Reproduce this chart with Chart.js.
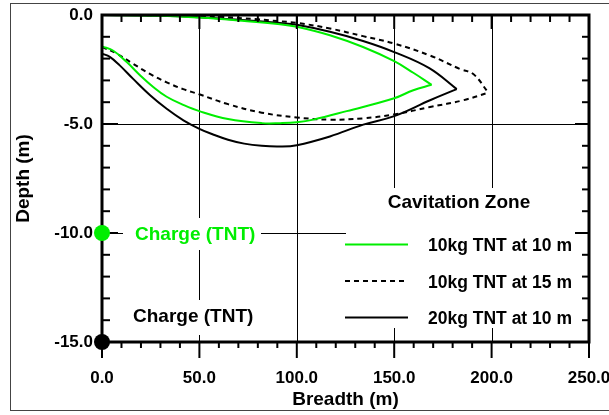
<!DOCTYPE html>
<html>
<head>
<meta charset="utf-8">
<script src="https://cdn.jsdelivr.net/npm/chart.js@4.4.1/dist/chart.umd.min.js"></script>
<style>
  body { margin: 0; background: #fff; }
</style>
</head>
<body>
<canvas id="depthChart" width="609" height="415"></canvas>
<script>
// cavitation zone outlines, [breadth (m), depth (m)]
// each zone = lower edge + upper edge, both running left to right into the tip
const lower10at10 = [[0, -1.44], [5.8, -1.64], [12.7, -2.16], [19.5, -2.76], [26.3, -3.3], [33.2, -3.75],
  [41.7, -4.12], [50.3, -4.42], [64.7, -4.77], [82, -4.96], [91.4, -4.96], [100, -4.92], [108.5, -4.8],
  [125.6, -4.41], [150, -3.82], [159.8, -3.45], [169.2, -3.2]];
const upper10at10 = [[0, 0], [30, -0.03], [50, -0.12], [70, -0.25], [91.4, -0.42], [100, -0.54], [117, -0.93],
  [134, -1.47], [150, -2.12], [159.8, -2.65], [169.2, -3.2]];

const lower10at15 = [[0, -1.46], [7.5, -1.77], [16, -2.24], [24.6, -2.7], [33.2, -3.09], [41.7, -3.4],
  [50.3, -3.65], [64.7, -4.09], [82, -4.48], [100, -4.7], [117, -4.8], [134, -4.74], [150, -4.56],
  [168.4, -4.22], [185.5, -3.91], [198.3, -3.56]];
const upper10at15 = [[0, 0], [40, -0.02], [60, -0.08], [80, -0.2], [91.4, -0.29], [100, -0.36], [117, -0.62],
  [134, -0.97], [150, -1.31], [168.4, -1.86], [183.8, -2.48], [190.6, -2.71], [198.3, -3.56]];

const lower20at10 = [[0, -1.77], [4, -1.92], [9.1, -2.31], [16, -2.93], [24.7, -3.68], [33.2, -4.3],
  [41.8, -4.83], [50, -5.22], [57, -5.48], [64.7, -5.72], [73, -5.9], [82, -6.0], [91, -6.03], [100, -5.97],
  [117, -5.57], [134.1, -5.03], [150, -4.64], [168.4, -3.91], [182.1, -3.4]];
const upper20at10 = [[0, 0], [30, -0.03], [50, -0.1], [70, -0.22], [91.4, -0.37], [100, -0.45], [117, -0.77],
  [134, -1.19], [150, -1.7], [168, -2.44], [182.1, -3.4]];

const seriesNames = ['10kg TNT at 10 m', '10kg TNT at 15 m', '20kg TNT at 10 m'];
const chargeDepths = [-10, -15];
const gridX = [50, 100, 150, 200];
const gridY = [-5, -10];

const GREEN = '#00ee00';
const FONT = "'Liberation Sans', Arial, sans-serif";
const styles = [
  {color: GREEN, dash: []},
  {color: '#000', dash: [5, 4]},
  {color: '#000', dash: []}
];
const outlines = [[lower10at10, upper10at10], [lower10at15, upper10at15], [lower20at10, upper20at10]];

const toPts = arr => arr.map(([x, y]) => ({x, y}));

// markers first so they are painted last (on top of the frame)
const datasets = [
  {data: [{x: 0, y: chargeDepths[0]}], pointRadius: 8, backgroundColor: GREEN, borderWidth: 0, showLine: false, clip: false},
  {data: [{x: 0, y: chargeDepths[1]}], pointRadius: 8, backgroundColor: '#000', borderWidth: 0, showLine: false, clip: false}
];
outlines.forEach((pair, i) => pair.forEach(branch => datasets.push({
  data: toPts(branch),
  showLine: true,
  pointRadius: 0,
  borderColor: styles[i].color,
  borderWidth: 2,
  borderDash: styles[i].dash,
  tension: 0.4,
  fill: false
})));

function line(ctx, x1, y1, x2, y2) {
  ctx.beginPath();
  ctx.moveTo(x1, y1);
  ctx.lineTo(x2, y2);
  ctx.stroke();
}

function drawAxes(chart) {
  const {ctx, chartArea: a, scales: {x, y}} = chart;
  ctx.save();
  ctx.strokeStyle = '#000';
  ctx.lineWidth = 2;
  for (let v = 0; v <= 250; v += 10) {
    const px = x.getPixelForValue(v);
    const major = v % 50 === 0;
    line(ctx, px, a.top, px, a.top + (major ? 14 : 7));
    line(ctx, px, a.bottom, px, a.bottom + (major ? 16 : 6));
  }
  for (let v = 0; v >= -15; v -= 1) {
    const py = y.getPixelForValue(v);
    const major = v % 5 === 0;
    line(ctx, a.left, py, a.left + (major ? 16 : 8), py);
    line(ctx, a.right, py, a.right - (major ? 14 : 7), py);
  }
  ctx.lineWidth = 3;
  ctx.strokeRect(a.left, a.top, a.right - a.left, a.bottom - a.top);
  ctx.restore();
}

const framePlugin = {
  id: 'frame',
  beforeDatasetsDraw(chart) {
    const {ctx, chartArea: a, scales: {x, y}} = chart;
    ctx.save();
    // grid
    ctx.strokeStyle = '#000';
    ctx.lineWidth = 1;
    gridX.forEach(v => { const px = Math.round(x.getPixelForValue(v)) + 0.5; line(ctx, px, a.top, px, a.bottom); });
    gridY.forEach(v => { const py = Math.round(y.getPixelForValue(v)) + 0.5; line(ctx, a.left, py, a.right, py); });

    // charge labels with white boxes
    const yc = y.getPixelForValue(chargeDepths[0]);
    ctx.fillStyle = '#fff';
    ctx.fillRect(a.left + 21, yc - 15, 138, 32);
    ctx.fillRect(a.left + 21, 300, 138, 35);
    ctx.font = 'bold 19px ' + FONT;
    ctx.textBaseline = 'alphabetic';
    ctx.textAlign = 'left';
    ctx.fillStyle = GREEN;
    ctx.fillText('Charge (TNT)', a.left + 33, yc + 7);
    ctx.fillStyle = '#000';
    ctx.fillText('Charge (TNT)', a.left + 31, 322);

    // legend box
    ctx.fillStyle = '#fff';
    ctx.fillRect(346, 188, 235, 140);
    ctx.fillStyle = '#000';
    ctx.textAlign = 'center';
    ctx.fillText('Cavitation Zone', 459, 208);
    ctx.font = 'bold 17.5px ' + FONT;
    ctx.textAlign = 'left';
    seriesNames.forEach((name, i) => {
      const ly = 244.5 + i * 36.5;
      ctx.strokeStyle = styles[i].color;
      ctx.lineWidth = 2;
      ctx.setLineDash(styles[i].dash);
      line(ctx, 345, ly, 408, ly);
      ctx.setLineDash([]);
      ctx.fillStyle = '#000';
      ctx.fillText(name, 428, ly + 6.5);
    });
    ctx.restore();
  },
  afterDatasetDraw(chart, args) {
    if (args.index === 2) drawAxes(chart);
  },
  afterDraw(chart) {
    const ctx = chart.ctx;
    ctx.save();
    ctx.strokeStyle = '#444';
    ctx.lineWidth = 1;
    ctx.strokeRect(10.5, 3.5, 700, 407);
    ctx.restore();
  }
};

const tickFont = {family: FONT, weight: 'bold', size: 17};
const titleFont = {family: FONT, weight: 'bold', size: 19};

new Chart(document.getElementById('depthChart'), {
  type: 'scatter',
  data: {datasets},
  options: {
    responsive: false,
    animation: false,
    devicePixelRatio: 1,
    layout: {padding: {left: 0, right: 20, top: 15, bottom: 0}},
    plugins: {legend: {display: false}, tooltip: {enabled: false}},
    scales: {
      x: {
        type: 'linear',
        min: 0,
        max: 250,
        grid: {display: false, drawTicks: false},
        border: {display: false},
        ticks: {stepSize: 50, autoSkip: false, maxRotation: 0, padding: 26, color: '#000', font: tickFont,
          callback: v => v.toFixed(1)},
        title: {display: true, text: 'Breadth (m)', color: '#000', font: titleFont, padding: {top: 0, bottom: 4}},
        afterFit: s => { s.height = 73; s.paddingLeft = 0; s.paddingRight = 0; }
      },
      y: {
        type: 'linear',
        min: -15,
        max: 0,
        grid: {display: false, drawTicks: false},
        border: {display: false},
        ticks: {stepSize: 5, autoSkip: false, padding: 9, color: '#000', font: tickFont,
          callback: v => v.toFixed(1)},
        title: {display: true, text: 'Depth (m)', color: '#000', font: titleFont, padding: {top: 12, bottom: 0}},
        afterFit: s => { s.width = 102; s.paddingTop = 0; s.paddingBottom = 0; }
      }
    }
  },
  plugins: [framePlugin]
});
</script>
</body>
</html>
